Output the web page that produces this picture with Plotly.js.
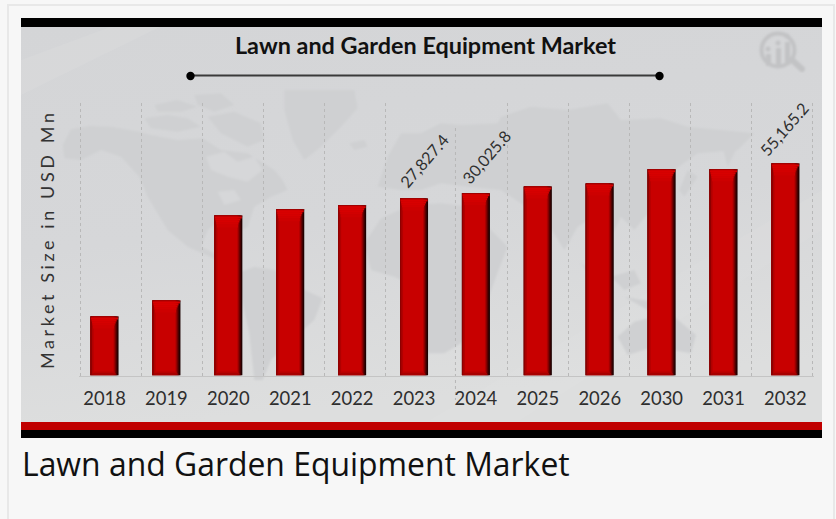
<!DOCTYPE html>
<html>
<head>
<meta charset="utf-8">
<script src="https://cdn.plot.ly/plotly-3.0.1.min.js"></script>
<style>
html,body{margin:0;padding:0;background:#f7f7f7;overflow:hidden}
#chart{width:836px;height:519px}
.ytitle{letter-spacing:3.6px}
.barlayer{filter:blur(.45px)}
</style>
</head>
<body>
<div id="chart"></div>
<script>
// Data
const titleText = "Lawn and Garden Equipment Market";
const captionText = "Lawn and Garden Equipment Market";
const yTitleText = "Market Size in USD Mn";
const categories = ["2018","2019","2020","2021","2022","2023","2024","2025","2026","2030","2031","2032"];
// Drawn bar heights, in USD Mn on a scale anchored at the 2023 bar. The printed labels of the
// reference are not proportional to its bars, so printed labels are kept separately.
const values = [9270,11790,25150,26140,26770,27827.4,28660,29700,30180,32420,32420,33330];
const printedCategories = ["2023","2024","2032"];
const printedLabels = ["27,827.4","30,025.8","55,165.2"];

const W = 836, H = 519;
const px = x => x / W, py = y => 1 - y / H;
const u = 27827.4 / 177;           // value units per pixel
const yMax = 272.5 * u;
const pitch = 61.9;
const catW = p => p / pitch;       // pixels to category units

// Bevelled look: overlaid bars, darkest and widest at the back
function piece(yArr, baseArr, l, r, color) {
  return {
    type: 'bar', x: categories, y: yArr, base: baseArr,
    width: catW(r - l), offset: catW(l),
    marker: {color, line: {width: 0}},
    hoverinfo: 'skip', showlegend: false
  };
}
const layer = (l, r, color) => piece(values, values.map(() => 0), l, r, color);
const band = (fromTop, h, l, r, color) => piece(values.map(() => h * u), values.map(v => v - (fromTop + h) * u), l, r, color);
const bandBottom = (fromBot, h, l, r, color) => piece(values.map(() => h * u), values.map(() => fromBot * u), l, r, color);
const traces = [
  // grid axis carrier
  {type:'scatter', mode:'none', x:[0,12], y:[0,0], xaxis:'x2', yaxis:'y', hoverinfo:'skip', showlegend:false},
  layer(-14, 14, '#1c0000'),
  layer(-14, 13, '#380000'),
  layer(-14, 12, '#5c0000'),
  layer(-14, 11, '#860000'),
  layer(-14, 10, '#ac0000'),
  layer(-14, -12.5, '#8c0000'),
  layer(-12.5, -11, '#b00000'),
  layer(-11, 9, '#c80000'),
  band(0, 1, -14, 14, '#9a0000'),
  band(1, 2, -13.5, 13.5, '#d80000'),
  band(3, 2, -13, 12, '#d80000'),
  band(5, 2, -12.5, 11, '#d60000'),
  band(7, 2, -12, 10, '#d20000'),
  band(9, 3, -11.5, 9.5, '#cd0000'),
  bandBottom(0, 1, -13, 12, '#8a0000'),
  bandBottom(1, 1.5, -12, 11, '#a80000'),
  bandBottom(2.5, 1.5, -11, 10, '#b80000')
];

// Background picture: panel gradient, faint world map, watermark icon
const landWest = [
 // North America
 "M125 165L150 118L205 108L270 110L355 125L390 135L470 150L545 145L600 180L680 190L760 240L785 270L800 300L750 320L700 350L680 410L665 420L640 380L600 390L560 420L540 470L600 500L640 530L610 520L500 470L440 420L380 320L355 260L300 200L240 180L180 210L130 205Z",
 // Arctic islands
 "M370 85L440 75L500 85L540 110L470 125L390 115Z","M400 45L470 30L530 50L480 65L410 65Z","M520 15L600 10L640 45L580 65L530 45Z",
 "M560 80L640 65L720 100L730 150L680 170L600 130Z",
 // Greenland
 "M790 0L1000 0L1010 55L960 110L900 170L850 210L815 150L790 60Z",
 // Iceland
 "M985 160L1030 150L1040 170L1000 180Z",
 // South America
 "M650 550L700 530L760 540L830 590L905 625L880 690L800 760L750 810L725 870L700 870L685 730L665 640Z"
];
const paleWest = [
 "M555 200L610 185L650 215L700 200L725 240L680 275L620 260L570 240Z",
 "M590 305L640 300L660 330L610 345Z"
];
const landEast = [
 // Eurasia
 "M-130 290L-100 200L-60 130L0 130L60 100L120 105L230 100L240 80L330 50L440 60L560 40L600 90L720 85L800 110L1000 130L950 180L830 190L760 240L720 300L690 360L640 420L600 380L570 440L520 380L470 410L430 480L380 400L300 340L240 300L140 290L60 280L0 300L-60 300Z",
 // Africa
 "M-170 460L-120 385L-30 345L60 340L150 350L210 420L260 470L225 560L190 660L120 760L70 790L20 790L0 700L-20 590L-80 560L-150 540Z",
 // Indonesia and neighbours
 "M480 520L540 560L580 610L530 590Z","M570 560L640 540L660 580L610 600Z","M610 620L720 640L760 660L680 660Z",
 // Australia
 "M590 740L640 695L700 680L760 680L825 735L810 790L700 770L620 795Z",
 // Kamchatka, Japan
 "M900 150L950 170L920 230Z","M800 240L830 260L790 320L775 300Z"
];
const svg = `<svg xmlns="http://www.w3.org/2000/svg" width="801" height="395" viewBox="21 27 801 395">
<defs>
<linearGradient id="g" x1="0" y1="0" x2="0.2" y2="1"><stop offset="0" stop-color="#d4d5d7"/><stop offset=".55" stop-color="#d6d7d9"/><stop offset="1" stop-color="#dddede"/></linearGradient>
<filter id="b"><feGaussianBlur stdDeviation="1.2"/></filter>
<filter id="c"><feGaussianBlur stdDeviation="0.8"/></filter>
</defs>
<rect x="21" y="27" width="801" height="395" fill="url(#g)"/>
<path d="M21 60L110 27L160 27L21 95Z" fill="#fff" opacity=".07"/>
<path d="M430 420L822 190L822 230L520 420Z" fill="#fff" opacity=".05"/>
<g filter="url(#b)">
<g transform="translate(21 90) scale(.3333)" fill="#cfd0d2">${landWest.map(d => `<path d="${d}"/>`).join('')}</g>
<g transform="translate(21 90) scale(.3333)" fill="#d6d7d9">${paleWest.map(d => `<path d="${d}"/>`).join('')}</g>
<g transform="translate(421 90) scale(.3333)" fill="#cfd0d2">${landEast.map(d => `<path d="${d}"/>`).join('')}</g>
</g>
<g filter="url(#c)" fill="#c2c3c5" stroke="none">
<circle cx="778" cy="50" r="16.5" fill="none" stroke="#c2c3c5" stroke-width="4"/>
<path d="M792 60L802 69" stroke="#c2c3c5" stroke-width="6" stroke-linecap="round"/>
<rect x="766" y="54" width="5" height="12"/><rect x="776" y="48" width="5" height="18"/><rect x="785" y="42" width="5" height="23"/>
<circle cx="768" cy="49" r="2.5"/><circle cx="778" cy="43" r="2.5"/><circle cx="787" cy="36" r="2.5"/>
</g></svg>`;

const rect = (x0, y0, x1, y1, fill) => ({type:'rect', xref:'paper', yref:'paper', x0:px(x0), x1:px(x1), y0:py(y0), y1:py(y1), fillcolor:fill, line:{width:0}, layer:'below'});
const dot = (cx, cy, r) => ({type:'circle', xref:'paper', yref:'paper', x0:px(cx-r), x1:px(cx+r), y0:py(cy+r), y1:py(cy-r), fillcolor:'#000', line:{width:0}, layer:'below'});

const shapes = [
  {type:'rect', xref:'paper', yref:'paper', x0:px(8), x1:px(834), y0:py(5), y1:py(560), fillcolor:'rgba(0,0,0,0)', line:{color:'#e8e8e8', width:2}, layer:'below'},
  rect(21, 18, 822, 27, '#000000'),
  rect(21, 422, 822, 430, '#c00000'),
  rect(21, 430, 822, 438, '#000000'),
  {type:'line', xref:'paper', yref:'paper', x0:px(190), x1:px(660), y0:py(75.5), y1:py(75.5), line:{color:'#3a3a3a', width:2}, layer:'below'},
  dot(190.5, 76, 4.2), dot(659.5, 76, 4.2),
  {type:'line', xref:'x2', yref:'paper', x0:6.147, x1:6.147, y0:py(128), y1:py(400), line:{color:'#b8b8b8', width:1, dash:'dot'}, layer:'below'}
];

const labelShift = {"2023":[10,38], "2024":[10.5,37], "2032":[-1,35]};
const annotations = printedCategories.map((c, i) => ({
  x: categories.indexOf(c), y: values[categories.indexOf(c)], xref:'x', yref:'y',
  text: printedLabels[i], showarrow:false, textangle:-49,
  xanchor:'center', yanchor:'middle',
  xshift: labelShift[c][0], yshift: labelShift[c][1],
  font:{family:'Lato', size:16.2, color:'#303030'}
}));
annotations.push({
  xref:'paper', yref:'paper', x:px(20), y:py(463), xanchor:'left', yanchor:'middle',
  text: captionText, showarrow:false, font:{family:'Open Sans', size:31.9, color:'#111111'}
});

const layout = {
  width:W, height:H, margin:{l:0,r:0,t:0,b:0,pad:0},
  paper_bgcolor:'#f7f7f7', plot_bgcolor:'rgba(0,0,0,0)',
  barmode:'overlay', showlegend:false,
  title:{text:titleText, xref:'paper', yref:'paper', x:px(425.5), y:py(46), xanchor:'center', yanchor:'middle',
         font:{family:'Lato', size:23.4, weight:700, color:'#111111'}},
  xaxis:{type:'category', categoryorder:'array', categoryarray:categories, range:[-0.5,11.5],
         domain:[px(73.6), px(816.4)], anchor:'y', showgrid:false, zeroline:false, showline:false,
         tickmode:'array', tickvals:categories, ticktext:categories,
         ticks:'outside', ticklen:6, tickcolor:'rgba(0,0,0,0)', tickfont:{family:'Lato', size:18.4, color:'#2e2e2e'}, fixedrange:true},
  xaxis2:{type:'linear', range:[-0.02,12.02], domain:[px(78.8), px(814.2)], anchor:'y', side:'bottom',
          tickmode:'array', tickvals:[0,1,2,3,4,5,7,8,9,10,11,12], showticklabels:false, ticks:'',
          showgrid:true, gridcolor:'#b8b8b8', griddash:'dot', gridwidth:1, zeroline:false,
          showline:true, linecolor:'#c4c4c4', linewidth:1, fixedrange:true},
  yaxis:{range:[0,yMax], domain:[py(375.5), py(103)], anchor:'x', showgrid:false, zeroline:false, showline:false,
         showticklabels:false, ticks:'', fixedrange:true,
         title:{text:yTitleText, standoff:13, font:{family:'Lato', size:18, color:'#333333'}}},
  images:[{source:'data:image/svg+xml;charset=utf-8,'+encodeURIComponent(svg), xref:'paper', yref:'paper',
           x:px(21), y:py(27), sizex:801/W, sizey:395/H, sizing:'stretch', xanchor:'left', yanchor:'top', layer:'below'}],
  shapes, annotations
};
Plotly.newPlot('chart', traces, layout, {displayModeBar:false, staticPlot:true});
</script>
</body>
</html>
